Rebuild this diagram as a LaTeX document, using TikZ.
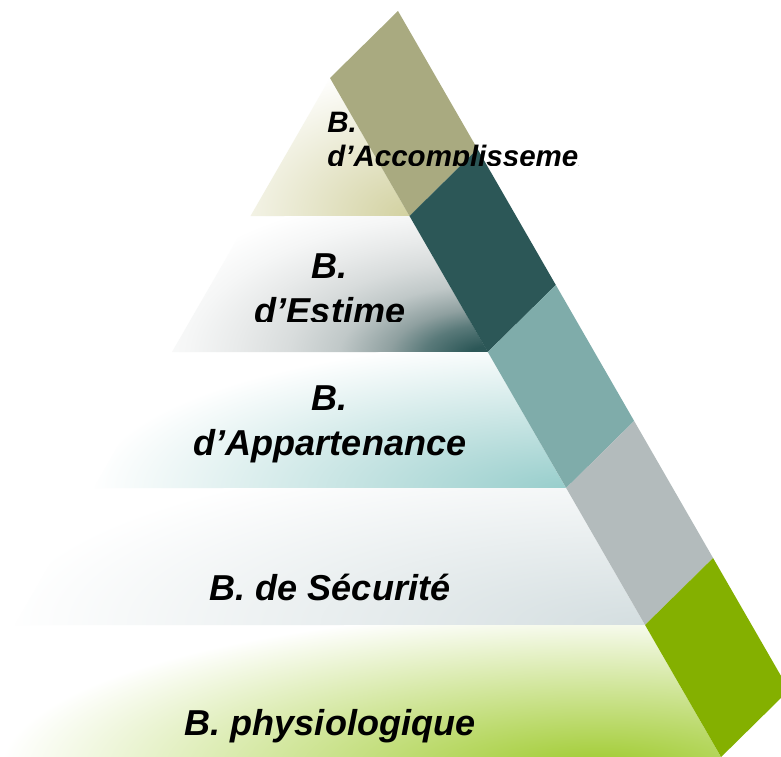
\documentclass[tikz,border=0pt]{standalone}
\usepackage{fontspec}
\setmainfont{Liberation Sans}
\usetikzlibrary{calc}

\definecolor{olivestrip}{RGB}{169,170,128}
\definecolor{tealdark}{RGB}{44,87,87}
\definecolor{tealmid}{RGB}{127,172,170}
\definecolor{greystrip}{RGB}{179,187,188}
\definecolor{greenstrip}{RGB}{132,176,0}
\definecolor{tone}{RGB}{200,200,200}
\definecolor{deepA}{RGB}{90,122,122}
\definecolor{deepB}{RGB}{143,160,160}
\definecolor{deepC}{RGB}{192,200,200}
\definecolor{deepD}{RGB}{216,220,220}
\definecolor{deepE}{RGB}{232,234,234}
\definecolor{deepF}{RGB}{245,246,246}

% soft glow: full tone in the middle, white on the rim of the path
\pgfdeclareradialshading[tone]{glow}{\pgfpoint{0bp}{0bp}}{color(0bp)=(tone); color(25bp)=(white); color(50bp)=(white)}
% darker glow for the esteem band
\pgfdeclareradialshading{glowdeep}{\pgfpoint{0bp}{0bp}}{color(0bp)=(tealdark); color(1.5bp)=(tealdark); color(4.6bp)=(deepA); color(7bp)=(deepB); color(10.5bp)=(deepC); color(14bp)=(deepD); color(17.5bp)=(deepE); color(21bp)=(deepF); color(25bp)=(white); color(50bp)=(white)}

\begin{document}
\begin{tikzpicture}[x=0.02cm, y=-0.02cm,
		lbl/.style={font=\fontsize{20.5}{25.6}\selectfont\bfseries\itshape, align=center, inner sep=0pt},
		lblsmall/.style={font=\fontsize{16.8}{19.4}\selectfont\bfseries\itshape, align=left, inner sep=0pt}]
		\useasboundingbox (0,0) rectangle (781,757);
		\fill[white] (0,0) rectangle (781,757);
		
		%bands
		\begin{scope}
		\clip (330,78) -- (409.5,216) -- (250.5,216) -- cycle;
		\definecolor{tone}{RGB}{210,209,160}
		\shade[shading=glow] (410,216) ellipse (220 and 150);
		\end{scope}
		\begin{scope}
		\clip (250.5,216) -- (409.5,216) -- (488,352) -- (172,352) -- cycle;
		\shade[shading=glowdeep] (490,356) ellipse (360 and 170);
		\end{scope}
		\begin{scope}
		\clip (172,352) -- (488,352) -- (566,488) -- (94,488) -- cycle;
		\definecolor{tone}{RGB}{150,205,203}
		\shade[shading=glow] (570,490) ellipse (480 and 150);
		\end{scope}
		\begin{scope}
		\clip (94,488) -- (566,488) -- (645,625) -- (15,625) -- cycle;
		\definecolor{tone}{RGB}{212,222,224}
		\shade[shading=glow] (640,625) ellipse (640 and 180);
		\end{scope}
		\begin{scope}
		\clip (15,625) -- (645,625) -- (721,757) -- (-61,757) -- cycle;
		\definecolor{tone}{RGB}{158,202,44}
		\shade[shading=glow] (600,770) ellipse (600 and 160);
		\end{scope}
		
		%strip
		\foreach \ya/\yb/\col in {78/216/olivestrip, 216/352/tealdark, 352/488/tealmid, 488/625/greystrip, 625/757/greenstrip}
		\fill[\col] ({330+0.576*(\ya-78)},\ya) -- ++(68,-67) -- ({398+0.576*(\yb-78)},{\yb-67}) -- ({330+0.576*(\yb-78)},\yb) -- cycle;
		
		%labels
		\begin{scope}
		\clip (0,0) rectangle (578,165);
		\node[lblsmall, anchor=base west] (accomp) at (327,167) {B.\\d’Accomplissement};
		\end{scope}
		\begin{scope}
		\clip (0,0) rectangle (781,321);
		\node[lbl, anchor=base] (estime) at (330,323) {B.\\d’Estime};
		\end{scope}
		\node[lbl, anchor=base] (appart) at (330,455) {B.\\d’Appartenance};
		\node[lbl, anchor=base] (secu) at (330,600) {B. de Sécurité};
		\node[lbl, anchor=base] (physio) at (330,735) {B. physiologique};
\end{tikzpicture}
\end{document}
